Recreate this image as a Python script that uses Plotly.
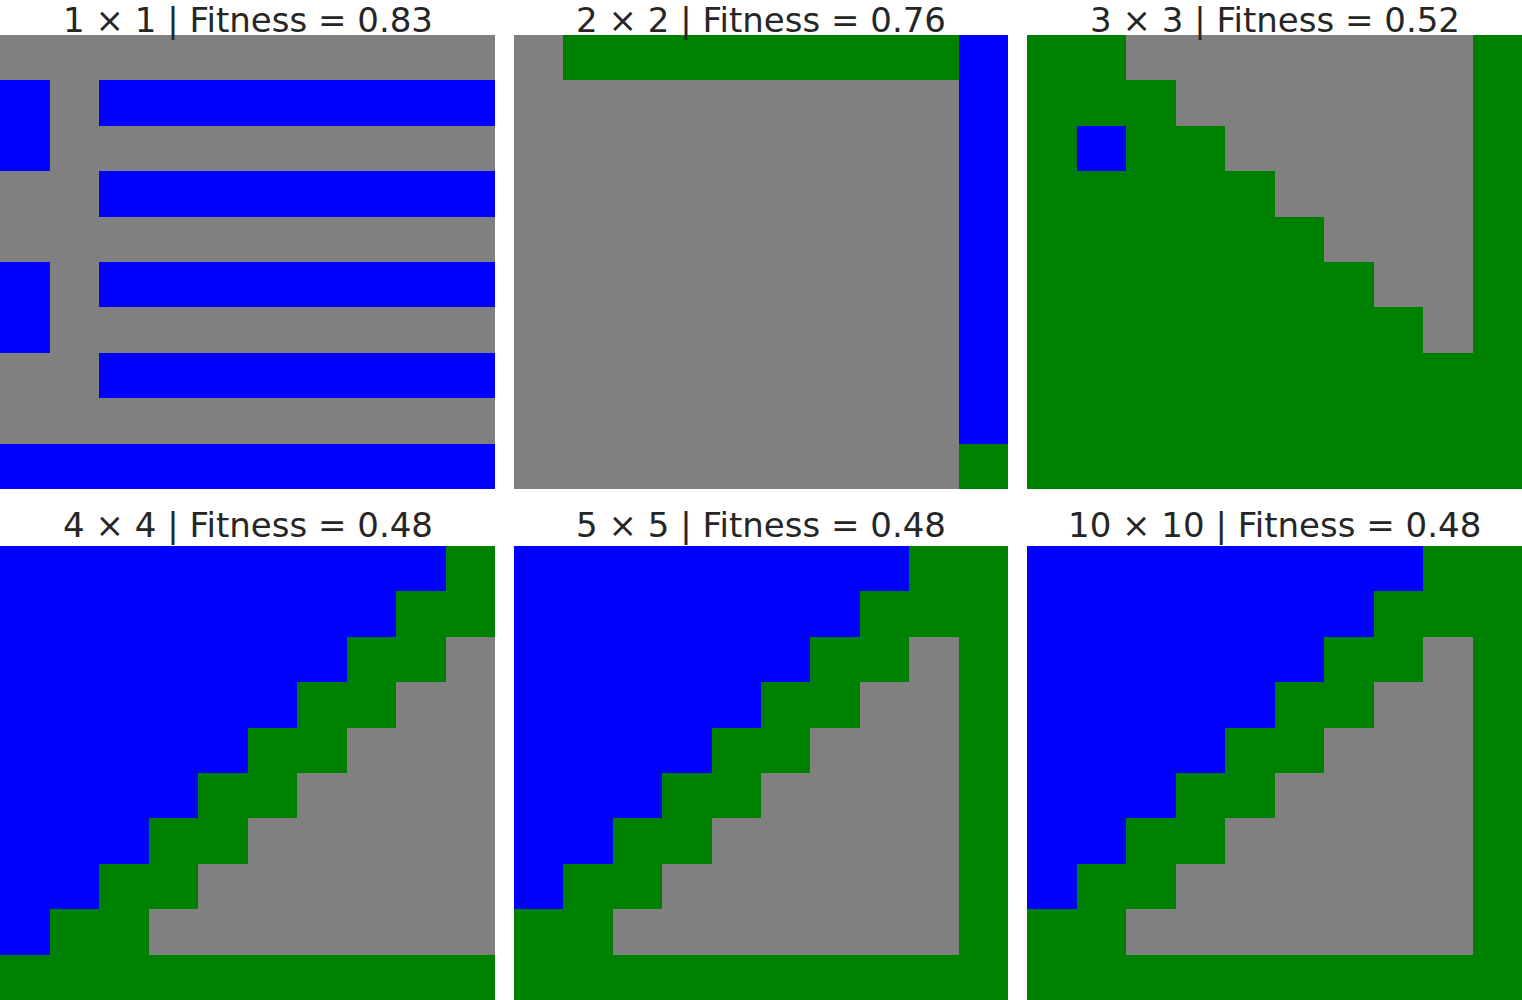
import plotly.graph_objects as go

# G = grey, B = blue, N = green ; rows from top to bottom
grid_1x1 = ["GGGGGGGGGG", "BGBBBBBBBB", "BGGGGGGGGG", "GGBBBBBBBB", "GGGGGGGGGG",
            "BGBBBBBBBB", "BGGGGGGGGG", "GGBBBBBBBB", "GGGGGGGGGG", "BBBBBBBBBB"]
grid_2x2 = ["GNNNNNNNNB", "GGGGGGGGGB", "GGGGGGGGGB", "GGGGGGGGGB", "GGGGGGGGGB",
            "GGGGGGGGGB", "GGGGGGGGGB", "GGGGGGGGGB", "GGGGGGGGGB", "GGGGGGGGGN"]
grid_3x3 = ["NNGGGGGGGN", "NNNGGGGGGN", "NBNNGGGGGN", "NNNNNGGGGN", "NNNNNNGGGN",
            "NNNNNNNGGN", "NNNNNNNNGN", "NNNNNNNNNN", "NNNNNNNNNN", "NNNNNNNNNN"]
grid_4x4 = ["BBBBBBBBBN", "BBBBBBBBNN", "BBBBBBBNNG", "BBBBBBNNGG", "BBBBBNNGGG",
            "BBBBNNGGGG", "BBBNNGGGGG", "BBNNGGGGGG", "BNNGGGGGGG", "NNNNNNNNNN"]
grid_5x5 = ["BBBBBBBBNN", "BBBBBBBNNN", "BBBBBBNNGN", "BBBBBNNGGN", "BBBBNNGGGN",
            "BBBNNGGGGN", "BBNNGGGGGN", "BNNGGGGGGN", "NNGGGGGGGN", "NNNNNNNNNN"]
grid_10x10 = ["BBBBBBBBNN", "BBBBBBBNNN", "BBBBBBNNGN", "BBBBBNNGGN", "BBBBNNGGGN",
              "BBBNNGGGGN", "BBNNGGGGGN", "BNNGGGGGGN", "NNGGGGGGGN", "NNNNNNNNNN"]

titles = ["1 × 1 | Fitness = 0.83", "2 × 2 | Fitness = 0.76", "3 × 3 | Fitness = 0.52",
          "4 × 4 | Fitness = 0.48", "5 × 5 | Fitness = 0.48", "10 × 10 | Fitness = 0.48"]
grids = [grid_1x1, grid_2x2, grid_3x3, grid_4x4, grid_5x5, grid_10x10]

code = {"G": 0, "B": 1, "N": 2}
cscale = [[0, "#808080"], [0.3333, "#808080"], [0.3333, "#0000ff"], [0.6667, "#0000ff"],
          [0.6667, "#008000"], [1, "#008000"]]

W, H, TOP = 1522, 1000, 35
xdom = [[0, 495 / W], [514 / W, 1008 / W], [1027 / W, 1]]
ph = H - TOP
ydom = [[(H - 489) / ph, 1], [0, (H - 546) / ph]]

fig = go.Figure()
ann = []
for i, (g, t) in enumerate(zip(grids, titles)):
    r, c = divmod(i, 3)
    n = "" if i == 0 else str(i + 1)
    z = [[code[ch] for ch in row] for row in g]
    fig.add_trace(go.Heatmap(z=z, colorscale=cscale, zmin=0, zmax=2, showscale=False,
                             xaxis="x" + n, yaxis="y" + n, hoverinfo="skip"))
    fig.layout["xaxis" + n] = dict(domain=xdom[c], visible=False, range=[-0.5, 9.5],
                                   anchor="y" + n)
    fig.layout["yaxis" + n] = dict(domain=ydom[r], visible=False, range=[9.5, -0.5],
                                   anchor="x" + n)
    ty = (H - 19.5) / ph if r == 0 else (H - 525) / ph
    ann.append(dict(text=t, x=(xdom[c][0] + xdom[c][1]) / 2, y=ty, xref="paper",
                    yref="paper", showarrow=False, xanchor="center", yanchor="middle",
                    borderpad=0,
                    font=dict(family="DejaVu Sans", size=34, color="#262626")))

fig.update_layout(width=W, height=H, margin=dict(l=0, r=0, t=TOP, b=0),
                  paper_bgcolor="white", plot_bgcolor="white", annotations=ann)

fig.write_html("out.html", config={"displayModeBar": False},
               post_script="document.body.style.margin='0';document.body.style.overflow='hidden';")
